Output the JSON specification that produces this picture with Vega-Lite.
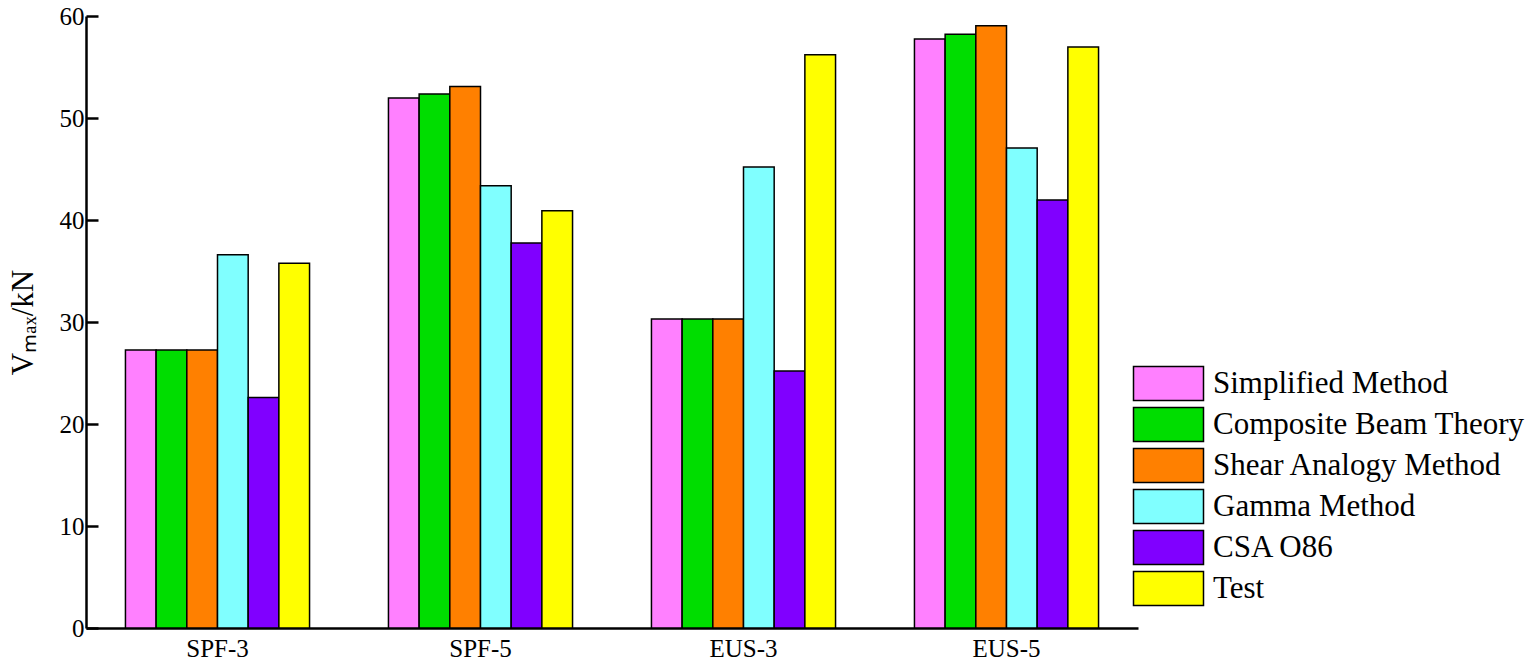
{
  "$schema": "https://vega.github.io/schema/vega-lite/v6.json",
  "width": 1052,
  "height": 612,
  "autosize": "none",
  "padding": {"left": 86, "top": 16, "right": 398, "bottom": 42},
  "background": "white",
  "config": {
    "view": {"stroke": null},
    "font": "Liberation Serif",
    "axis": {"grid": false, "domainColor": "black", "domainWidth": 2.5, "labelColor": "black", "titleColor": "black", "labelFont": "Liberation Serif", "titleFont": "Liberation Serif"}
  },
  "data": {
    "values": [
      {"group": "SPF-3", "method": "Simplified Method", "value": 27.25},
      {"group": "SPF-3", "method": "Composite Beam Theory", "value": 27.25},
      {"group": "SPF-3", "method": "Shear Analogy Method", "value": 27.25},
      {"group": "SPF-3", "method": "Gamma Method", "value": 36.6},
      {"group": "SPF-3", "method": "CSA O86", "value": 22.6},
      {"group": "SPF-3", "method": "Test", "value": 35.75},
      {"group": "SPF-5", "method": "Simplified Method", "value": 51.95},
      {"group": "SPF-5", "method": "Composite Beam Theory", "value": 52.35},
      {"group": "SPF-5", "method": "Shear Analogy Method", "value": 53.1},
      {"group": "SPF-5", "method": "Gamma Method", "value": 43.35},
      {"group": "SPF-5", "method": "CSA O86", "value": 37.75},
      {"group": "SPF-5", "method": "Test", "value": 40.9},
      {"group": "EUS-3", "method": "Simplified Method", "value": 30.3},
      {"group": "EUS-3", "method": "Composite Beam Theory", "value": 30.3},
      {"group": "EUS-3", "method": "Shear Analogy Method", "value": 30.3},
      {"group": "EUS-3", "method": "Gamma Method", "value": 45.2},
      {"group": "EUS-3", "method": "CSA O86", "value": 25.2},
      {"group": "EUS-3", "method": "Test", "value": 56.2},
      {"group": "EUS-5", "method": "Simplified Method", "value": 57.75},
      {"group": "EUS-5", "method": "Composite Beam Theory", "value": 58.2},
      {"group": "EUS-5", "method": "Shear Analogy Method", "value": 59.05},
      {"group": "EUS-5", "method": "Gamma Method", "value": 47.05},
      {"group": "EUS-5", "method": "CSA O86", "value": 41.95},
      {"group": "EUS-5", "method": "Test", "value": 56.95}
    ]
  },
  "mark": {"type": "bar", "stroke": "black", "strokeWidth": 1.5},
  "encoding": {
    "x": {
      "field": "group", "type": "nominal",
      "sort": ["SPF-3", "SPF-5", "EUS-3", "EUS-5"],
      "scale": {"paddingInner": 0.3, "paddingOuter": 0.15},
      "axis": {"title": null, "labelAngle": 0, "ticks": false, "labelFontSize": 25, "labelPadding": 8}
    },
    "xOffset": {
      "field": "method", "type": "nominal",
      "sort": ["Simplified Method", "Composite Beam Theory", "Shear Analogy Method", "Gamma Method", "CSA O86", "Test"],
      "scale": {"paddingInner": 0, "paddingOuter": 0}
    },
    "y": {
      "field": "value", "type": "quantitative",
      "scale": {"domain": [0, 60], "nice": false},
      "axis": {"title": "Vₘₐₓ/kN", "titleFontSize": 31, "titleFontWeight": "normal", "titlePadding": 20, "values": [0, 10, 20, 30, 40, 50, 60], "tickSize": -12, "tickWidth": 2.5, "tickColor": "black", "labelFontSize": 25, "labelPadding": 14}
    },
    "color": {
      "field": "method", "type": "nominal",
      "sort": ["Simplified Method", "Composite Beam Theory", "Shear Analogy Method", "Gamma Method", "CSA O86", "Test"],
      "scale": {"domain": ["Simplified Method", "Composite Beam Theory", "Shear Analogy Method", "Gamma Method", "CSA O86", "Test"], "range": ["#ff80ff", "#00dd00", "#ff8000", "#80ffff", "#8000ff", "#ffff00"]},
      "legend": {
        "title": null, "orient": "none", "legendX": 1064, "legendY": 349,
        "symbolType": "M-2,-0.971H2V0.971H-2Z", "symbolSize": 1225,
        "symbolStrokeColor": "black", "symbolStrokeWidth": 1.5, "symbolOpacity": 1,
        "labelFontSize": 31, "labelFont": "Liberation Serif", "labelColor": "black", "labelOffset": 26, "labelLimit": 400,
        "rowPadding": 0, "padding": 0
      }
    }
  }
}
